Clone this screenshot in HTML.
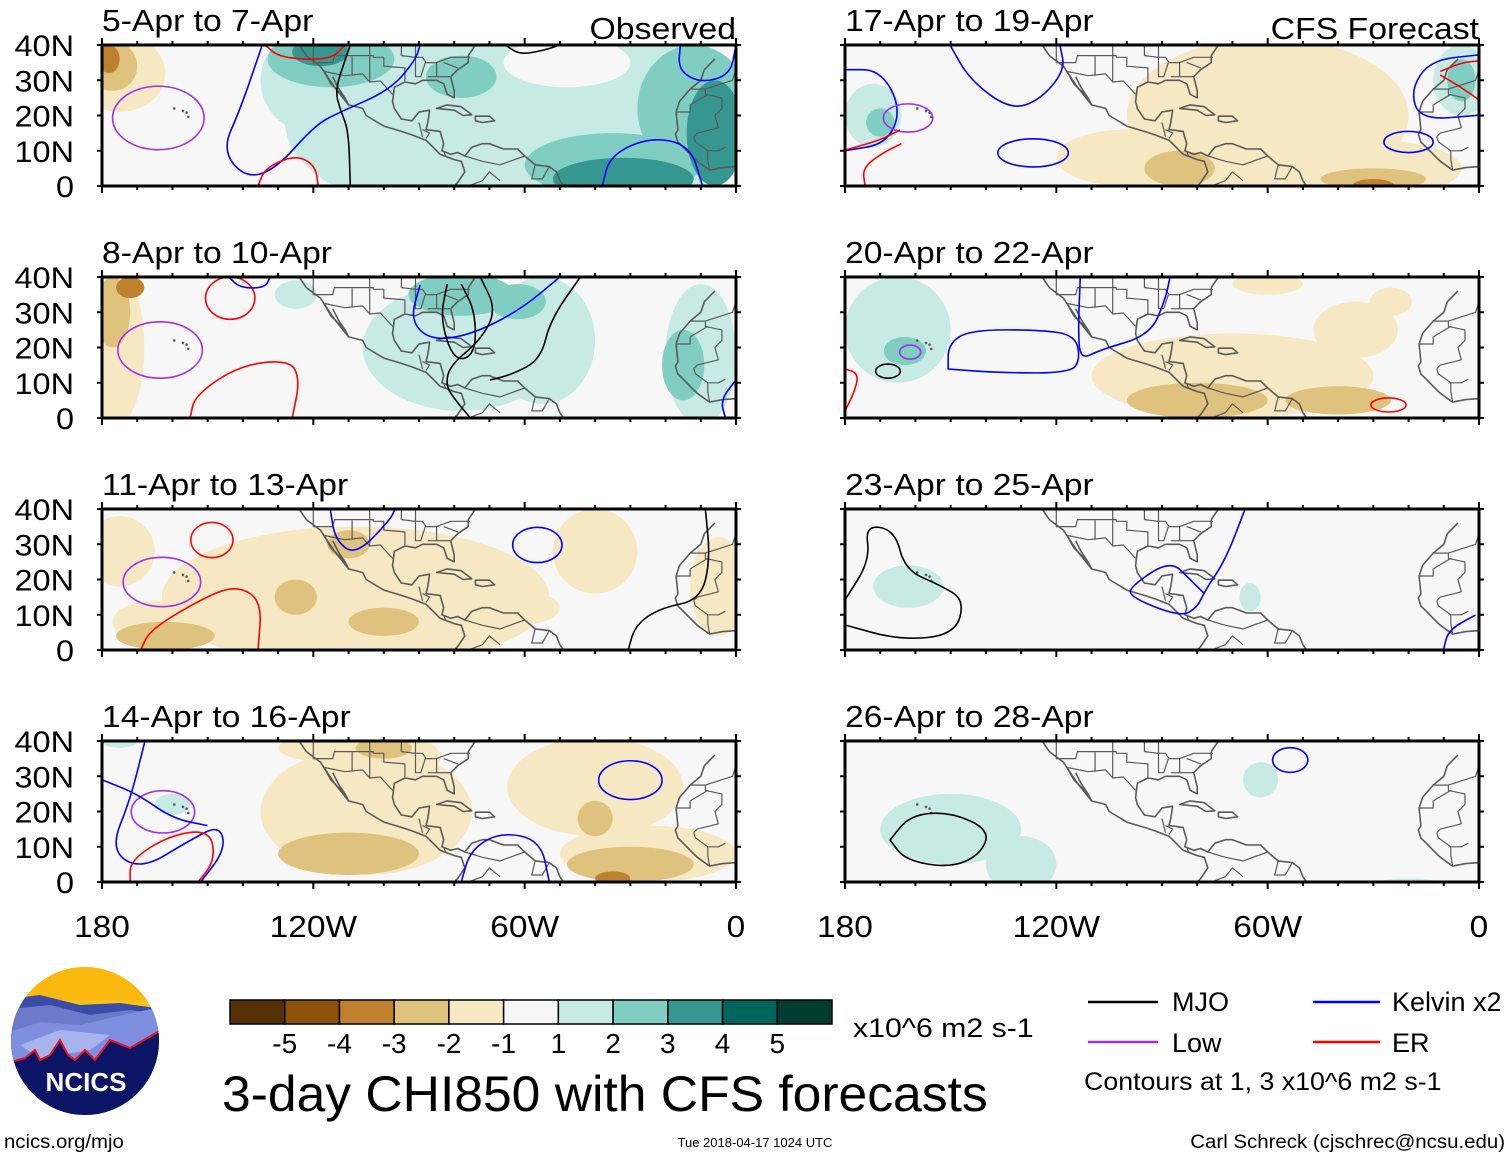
<!DOCTYPE html>
<html><head><meta charset="utf-8">
<style>
body{margin:0;background:#fff;}
svg{display:block;font-family:"Liberation Sans",Arial,sans-serif;}
</style></head>
<body>
<svg id="fig" width="1510" height="1157" viewBox="0 0 1510 1157" xmlns="http://www.w3.org/2000/svg">
<defs>
<clipPath id="logoclip"><ellipse cx="85" cy="1041" rx="74" ry="74"/></clipPath>
</defs>
<g id="panels"></g>
<g id="axislabels"></g>

<g clip-path="url(#logoclip)">
<rect x="0" y="960" width="170" height="160" fill="#f6c21a"/>
<rect x="0" y="960" width="170" height="40" fill="#fbb80e"/>
<path d="M0,1000 L40,995 L80,1005 L120,1003 L170,1010 L170,1120 L0,1120Z" fill="#3c4aa8"/>
<path d="M0,1010 L50,1005 L90,1015 L130,1010 L170,1015 L170,1120 L0,1120Z" fill="#6d7ac9"/>
<path d="M0,1035 L40,1022 L80,1025 L110,1018 L170,1005 L170,1120 L0,1120Z" fill="#7f8fe0"/>
<path d="M20,1045 L60,1030 L110,1035 L90,1050 L40,1058Z" fill="#a8b4ee"/>
<path d="M0,1065 L25,1058 L35,1050 L40,1060 L50,1055 L60,1040 L68,1055 L75,1060 L85,1050 L95,1060 L110,1040 L130,1048 L170,1025 L170,1120 L0,1120Z" fill="#0c1465" stroke="#e8141e" stroke-width="2"/>
<text x="86" y="1091" font-size="26" font-weight="bold" fill="#fff" text-anchor="middle">NCICS</text>
</g>

<text x="4" y="1148" font-size="19" class="sx" data-s="1.07">ncics.org/mjo</text>
<text x="755" y="1147" font-size="13" text-anchor="middle">Tue 2018-04-17 1024 UTC</text>
<text x="1505" y="1148" font-size="19" text-anchor="end" class="sx" data-s="1.075">Carl Schreck (cjschrec@ncsu.edu)</text>
<text x="222" y="1111" font-size="50" class="sx" data-s="1.032">3-day CHI850 with CFS forecasts</text>

<g id="colorbar"></g>
<text x="853" y="1037" font-size="27" class="sx" data-s="1.12">x10^6 m2 s-1</text>

<g font-size="27">
<line x1="1088" y1="1002" x2="1158" y2="1002" stroke="#000" stroke-width="2.5"/>
<text x="1172" y="1011">MJO</text>
<line x1="1313" y1="1002" x2="1380" y2="1002" stroke="#0000ff" stroke-width="2.5"/>
<text x="1392" y="1011">Kelvin x2</text>
<line x1="1088" y1="1042" x2="1158" y2="1042" stroke="#a030f0" stroke-width="2.5"/>
<text x="1172" y="1052">Low</text>
<line x1="1313" y1="1042" x2="1380" y2="1042" stroke="#ff0000" stroke-width="2.5"/>
<text x="1392" y="1052">ER</text>
<text x="1084" y="1090" font-size="25" class="sx" data-s="1.07">Contours at 1, 3 x10^6 m2 s-1</text>
</g>
</svg>
<script>
const NS="http://www.w3.org/2000/svg";
const levelColors={"-4":"#8c510a","-3":"#bf812d","-2":"#dfc27d","-1":"#f6e8c3","0":"#f7f7f7","1":"#c7eae5","2":"#80cdc1","3":"#35978f","4":"#01665e"};
const cbColors=["#543005","#8c510a","#bf812d","#dfc27d","#f6e8c3","#f7f7f7","#c7eae5","#80cdc1","#35978f","#01665e","#003c30"];
const cbLabels=["-5","-4","-3","-2","-1","1","2","3","4","5"];
const latTicks=["40N","30N","20N","10N","0"];
const lonTicks=["180","120W","60W","0"];
const contourColors={mjo:"#000",kel:"#0000ff",low:"#a030f0",er:"#ff0000"};
const titles=["5-Apr to 7-Apr","8-Apr to 10-Apr","11-Apr to 13-Apr","14-Apr to 16-Apr","17-Apr to 19-Apr","20-Apr to 22-Apr","23-Apr to 25-Apr","26-Apr to 28-Apr"];
const shade1=[[-60,18,68,30,1],[-120,30,15,15,1],[-48,35,18,7,0],[-140,8,14,10,0],[-115,36,18,8,2],[-78,31,10,6,2],[-12,22,16,18,2],[-35,6,25,9,2],[-32,2,20,6,3],[-6,15,8,15,3],[-118,38,8,4,3],[-175,32,13,11,-1],[-177,34,7,7,-2],[-178,36,3,4,-3]];
const shade2=[[-176,20,8,22,-1],[-177,30,5,10,-2],[-172,37,4,3,-3],[-78,20,28,18,1],[-55,22,15,18,1],[-10,18,10,20,1],[-125,35,6,4,1],[-78,35,15,6,2],[-62,33,8,5,2],[-15,15,6,10,2]];
const shade3=[[-108,15,55,20,-1],[-175,28,10,10,-1],[-40,28,12,12,-1],[-5,18,8,14,-1],[-62,12,12,5,-1],[-165,8,12,6,-1],[-110,30,6,4,-2],[-100,8,10,4,-2],[-162,4,14,4,-2],[-125,15,6,5,-2]];
const shade4=[[-105,20,30,18,-1],[-40,27,25,14,-1],[-25,8,25,8,-1],[-115,38,15,4,-1],[-92,35,8,6,-1],[-110,8,20,6,-2],[-30,5,18,5,-2],[-40,18,5,5,-2],[-100,38,8,3,-2],[-35,1,5,2,-3],[-160,22,5,3,1],[-175,40,5,2,1]];
const shade5=[[-60,20,40,22,-1],[-100,8,20,8,-1],[-30,5,25,8,-1],[-85,5,10,5,-2],[-30,2,15,3,-2],[-30,0,6,2,-3],[-172,20,8,9,1],[-170,18,4,4,2],[-5,30,8,10,1],[-5,30,4,6,2]];
const shade6=[[-165,25,15,15,1],[-163,19,6,4,2],[-70,12,40,12,-1],[-35,25,12,8,-1],[-25,33,6,4,-1],[-60,38,10,3,-1],[-80,5,20,5,-2],[-40,5,15,4,-2]];
const shade7=[[-162,18,10,6,1],[-65,15,3,4,1]];
const shade8=[[-150,15,20,10,1],[-130,5,10,8,1],[-62,29,5,5,1],[-20,0,8,1,1]];
const cont1=[["low","e",-164,19.3,13,9],["kel",0,[[-134.5,40],[-140.8,21.6],[-145.9,10.2],[-139.4,2.3],[-130.9,4.5],[-119.5,17.3],[-112.4,21],[-98.2,27.2],[-91,35.7],[-89.7,40]]],["er",0,[[-135.7,0],[-133.7,5.1],[-125.2,8.8],[-119.5,6],[-118.6,0]]],["er",0,[[-133.7,40],[-129.4,36.3],[-115.2,35.7],[-111,40]]],["mjo",0,[[-109.5,0],[-110,15.9],[-112.4,21.6],[-113.8,27.2],[-111,35.7],[-109.5,40]]],["mjo",0,[[-65.5,40],[-61.3,37.2],[-54.2,38.6],[-50,40]]],["kel",0,[[-38,0],[-35.7,8.8],[-24.3,13.9],[-13,11.6],[-9.5,0]]],["kel",0,[[-15.8,40],[-16.4,32.9],[-10.1,29.2],[-1.6,31.5],[0,40]]]];
const cont2=[["low","e",-163.5,19.3,12,8],["er","e",-143.6,34,7,6],["er",0,[[-155,0],[-153.6,6.5],[-140.8,15],[-126.6,16.5],[-123.8,10.8],[-126,0]]],["kel",0,[[-144,40],[-140.8,36.9],[-133.7,36.9],[-132.3,40]]],["kel",0,[[-89.7,37.7],[-92.5,27.8],[-86.8,22],[-75.4,23.5],[-61.3,30.6],[-50,40]]],["mjo",0,[[-72.6,40],[-68,30.6],[-72.6,22],[-81.1,15],[-82.5,9.4],[-79.7,5.1],[-75.4,0]]],["mjo",0,[[-44.2,40],[-52.7,27.8],[-55.5,16.5],[-64,12.2],[-69.8,10.8]]],["mjo",0,[[-82,38],[-84,28],[-80,16],[-74,18],[-74,30],[-78,38]]],["kel",0,[[0,10.8],[-4.4,5.1],[-3,0]]]];
const cont3=[["low","e",-163,19.3,11,7],["er","e",-148.8,31.2,6,5],["er",0,[[-169,0],[-166.4,5.7],[-152.2,14.2],[-142.2,18.4],[-134.6,14.2],[-135.7,0]]],["kel","e",-56.4,29.8,7,5],["kel",0,[[-115.2,40],[-113.8,31.2],[-108,26.8],[-98.2,36.9],[-96.8,40]]],["mjo",0,[[-30.6,0],[-28.6,7.1],[-21.5,11.9],[-10.1,14.2],[-7.3,25.5],[-8.7,40]]]];
const cont4=[["low","e",-162.7,19.9,9,6],["kel",0,[[-167.8,40],[-172,23.3],[-177.7,9.1],[-169,3.4],[-155,11.9],[-146.5,16.2],[-145,9.1],[-152,0]]],["kel",0,[[-180,29],[-170,25],[-160,18],[-150,16]]],["er",0,[[-172,0],[-172,6.2],[-160.7,13.3],[-149.3,14.8],[-147.9,6.2],[-152.7,0]]],["kel","e",-30,28.9,9,5.5],["kel",0,[[-78,0],[-75.4,9.1],[-66.9,14.2],[-55.5,11.9],[-53,0]]]];
const cont5=[["kel",0,[[-180,10],[-168,12],[-164,22],[-170,33],[-180,33]]],["kel",0,[[-150.2,40],[-144.5,30],[-133,21.6],[-124.6,24.4],[-117.5,32.9],[-119,40]]],["kel","e",-126.6,9.4,10,4],["kel",0,[[0,20.1],[-16.7,18.7],[-19.5,27.2],[-13.8,35.7],[0,37.2]]],["kel","e",-20,12.5,7,3],["low","e",-162.1,19.3,7,4],["er",0,[[-180,10.2],[-170,13],[-164.4,15.9]]],["er",0,[[-174.3,0],[-175,5],[-170,9],[-164,12]]],["er",0,[[-11,31.5],[-5,28],[0,24.4]]],["er",0,[[-11,32.5],[-5,35],[0,35.5]]]];
const cont6=[["kel",1,[[-150.7,13.9],[-150.7,21],[-144.5,25],[-124.6,25],[-114.6,23.5],[-113.2,16.5],[-116.1,12.8],[-136,12.8]]],["kel",0,[[-113.2,40],[-113.8,25],[-113.2,16.5],[-107.6,19.3],[-93.4,23.5],[-89.1,33.5],[-87.7,40]]],["mjo","e",-167.8,13.3,3.5,2],["low","e",-161.5,18.7,3,2],["er","e",-25.7,3.7,5,2],["er",0,[[-180,14],[-176,12.5],[-177.5,7],[-180,2]]]];
const cont7=[["mjo",0,[[-180,14.2],[-172.9,25.5],[-174.3,35.5],[-165.8,34],[-163,22.7],[-153,18.4],[-146,14.2],[-148.8,4.3],[-164.4,2.8],[-180,7.1]]],["kel",0,[[-66.4,40],[-72,25.5],[-77.7,17],[-80,12],[-84.8,9.4],[-99,15],[-99,18],[-87.7,25.5],[-82,20],[-78,16]]],["kel",0,[[-10.1,0],[-8.7,5.7],[-1,9.9]]]];
const cont8=[["mjo",1,[[-167.2,11.9],[-161.5,19],[-150.2,19.9],[-138.8,14.8],[-141.6,7.7],[-150.2,4],[-162.9,6.2]]],["kel","e",-53.6,34.6,5,3.5]];
const coastNA=[[-124,40],[-122,37],[-118,34],[-116,31],[-114,28],[-110,23],[-106,22],[-105,20],[-100,17],[-95,15.5],[-92,14.5],[-88,13],[-86,11],[-84,9],[-80,7.5],[-78,7],[-77,4],[-79,1],[-80,0]];
const baja=[[-117,32.5],[-115,29],[-112,26],[-110,23],[-111,25],[-113,28],[-114.5,31]];
const gulf=[[-74,40],[-76,37],[-76,35],[-79,33],[-81,31],[-80,27],[-80,25],[-82,26],[-83,29],[-85,30],[-89,30],[-91,29],[-94,29.5],[-97,28],[-97.5,24],[-97,22],[-95,19],[-92,18.5],[-90,21],[-87,21.5],[-87.5,18],[-88,16],[-84,15.5],[-83,12],[-83.5,10],[-81,9],[-79,9.5],[-77,8.5],[-75,11],[-72,12],[-70,12],[-66,10.5],[-62,10.5],[-60,8.5],[-57,6],[-53,5.5],[-51,4],[-50,1.5],[-49,0]];
const cuba=[[-85,22],[-82,23],[-78,22.5],[-75,20.2],[-77.5,20],[-80,21.5],[-85,22]];
const hisp=[[-74,19.8],[-70,19.8],[-68.5,18.5],[-72,18],[-74,18.5],[-74,19.8]];
const africa=[[-6,36],[-9,33],[-10,30],[-13,27.5],[-16,24],[-17,21],[-16.5,16],[-17.2,14.7],[-16.5,12.5],[-15,11],[-13,9],[-11,7],[-7.5,4.5],[-4,5.2],[0,5.5]];
const borders=[[[-117,32.5],[-111,31.3],[-106,31.8],[-104,29.5],[-101,29.8],[-97.5,26]],[[-124,42],[-124,40]],[[-120,40],[-120,35],[-114.5,35],[-114,37],[-109,37],[-109,31.3]],[[-109,37],[-103,37],[-103,36.5],[-100,36.5],[-100,34],[-94,33.5],[-94,29.7]],[[-104,40],[-104,29.5]],[[-95,40],[-95,37],[-91,36.5],[-89,36.5],[-88,35],[-85,35],[-81,36.5],[-75.5,36.5]],[[-91,40],[-91,31],[-89.5,31],[-88.2,35]],[[-85,35],[-85,31],[-87.5,31]],[[-81,31],[-85,31]],[[-83,35],[-79,33.5]],[[-13,27.5],[-8.7,27.5],[-8.7,26],[-4,25],[-4,22],[-6,20],[-5,16.5],[-11,15],[-12,14]],[[-17,21],[-13,21],[-13,23],[-8,26]],[[-8.7,27.5],[-1,30],[0,33]],[[-12,14],[-11.5,12.5],[-8,10],[-5,10],[-3,11]],[[-8,10],[-8,7.5],[-7.5,4.5]],[[-80,7.5],[-82.5,8.5],[-83,10]],[[-77,8.5],[-72,7],[-67,6],[-60,8.5]],[[-76,0],[-72,1.5],[-70,4],[-67,1.5]],[[-57,6],[-58,2],[-55,2],[-53,5.5]],[[-88,13.5],[-87,15],[-89,16]],[[-90,18],[-89,14]]];

const shades=[shade1,shade2,shade3,shade4,shade5,shade6,shade7,shade8];
const conts=[cont1,cont2,cont3,cont4,cont5,cont6,cont7,cont8];
const W=634,H=141,tops=[45,277,509,741],lefts=[102,845];
function mk(tag,attrs,parent){const e=document.createElementNS(NS,tag);for(const k in attrs)e.setAttribute(k,attrs[k]);if(parent)parent.appendChild(e);return e;}
const panelsG=document.getElementById('panels');
for(let p=0;p<8;p++){
  const col=p<4?0:1,row=p%4;
  const x0=lefts[col],y0=tops[row];
  const xs=lon=>x0+(lon+180)/180*W;
  const ys=lat=>y0+H-lat/40*H;
  const g=mk('g',{},panelsG);
  
  
  const cid='clip'+p;
  const cp=mk('clipPath',{id:cid},g);mk('rect',{x:x0,y:y0,width:W,height:H},cp);
  const inner=mk('g',{'clip-path':'url(#'+cid+')'},g);
  mk('rect',{x:x0,y:y0,width:W,height:H,fill:'#f7f7f7'},inner);
  shades[p].forEach(b=>{
    const e=mk('ellipse',{cx:xs(b[0]),cy:ys(b[1]),rx:b[2]/180*W,ry:b[3]/40*H,fill:levelColors[String(b[4])]},inner);
    
    
  });
  const pts=a=>a.map(q=>xs(q[0]).toFixed(1)+','+ys(q[1]).toFixed(1)).join(' ');
  const land=mk('g',{fill:'none',stroke:'#5a5a5a','stroke-width':1.6,'stroke-linejoin':'round'},inner);
  
  
  [coastNA,baja,gulf,africa].forEach(c=>mk('polyline',{points:pts(c)},land));
  [cuba,hisp].forEach(c=>mk('polygon',{points:pts(c)},land));
  borders.forEach(c=>mk('polyline',{points:pts(c),'stroke-width':1.2},land));
  [[-157,21.3],[-156,20.8],[-155.5,19.6],[-159.5,22]].forEach(q=>mk('circle',{cx:xs(q[0]),cy:ys(q[1]),r:1.3,fill:'#5a5a5a',stroke:'none'},land));
  conts[p].forEach(c=>{
    const col2=contourColors[c[0]];let e;
    if(c[1]==='e'){e=mk('ellipse',{cx:xs(c[2]),cy:ys(c[3]),rx:c[4]/180*W,ry:c[5]/40*H,fill:'none',stroke:col2,'stroke-width':1.6},inner);}
    else{
      const a=c[2];let d='M'+xs(a[0][0])+','+ys(a[0][1]);
      for(let i=1;i<a.length;i++){const q0=a[i-1],q1=a[i];const mx=(xs(q0[0])+xs(q1[0]))/2,my=(ys(q0[1])+ys(q1[1]))/2;d+=' Q'+xs(q0[0])+','+ys(q0[1])+' '+mx+','+my;}
      const l=a[a.length-1];
      if(c[1]){d+=' Q'+xs(l[0])+','+ys(l[1])+' '+(xs(l[0])+xs(a[0][0]))/2+','+(ys(l[1])+ys(a[0][1]))/2+' Z';}
      else d+=' L'+xs(l[0])+','+ys(l[1]);
      e=mk('path',{d:d,fill:'none',stroke:col2,'stroke-width':1.6},inner);
    }
    
    
  });
  const fr=mk('rect',{x:x0,y:y0,width:W,height:H,fill:'none',stroke:'#000','stroke-width':3},g);
  
  
  for(let lon=-180;lon<=0;lon+=10){
    const major=(lon%60===0);const x=xs(lon);const len=major?7:4;
    mk('line',{x1:x,y1:y0+H,x2:x,y2:y0+H+len,stroke:'#000','stroke-width':2},g);
    mk('line',{x1:x,y1:y0,x2:x,y2:y0-len,stroke:'#000','stroke-width':2},g);
  }
  for(let lat=0;lat<=40;lat+=10){
    const y=ys(lat);
    mk('line',{x1:x0-5,y1:y,x2:x0,y2:y,stroke:'#000','stroke-width':2},g);
    mk('line',{x1:x0+W,y1:y,x2:x0+W+5,y2:y,stroke:'#000','stroke-width':2},g);
  }
  const t=mk('text',{x:x0,y:y0-14,'font-size':31,'class':'sx','data-s':'1.085'},g);t.textContent=titles[p];
  
  
  if(col===0){
    latTicks.forEach((lab,i)=>{const tt=mk('text',{x:74,y:y0+i*H/4+11,'font-size':30,'text-anchor':'end','class':'sx','data-s':'1.08'},g);tt.textContent=lab;
      
      });
  }
  if(p===0){const tt=mk('text',{x:736,y:y0-6,'font-size':31,'text-anchor':'end','class':'sx','data-s':'1.09'},g);tt.textContent='Observed';
    
    }
  if(p===4){const tt=mk('text',{x:1479,y:y0-6,'font-size':31,'text-anchor':'end','class':'sx','data-s':'1.09'},g);tt.textContent='CFS Forecast';
    
    }
}
const al=document.getElementById('axislabels');
lefts.forEach(x0=>{lonTicks.forEach((lab,i)=>{const tt=mk('text',{x:x0+i*W/3,y:937,'font-size':31,'text-anchor':'middle','class':'sx','data-s':'1.08'},al);tt.textContent=lab;
  
  });});
const cb=document.getElementById('colorbar');
const cbx=230,cbw=602,cby=1000,cbh=24,bw=cbw/cbColors.length;
cbColors.forEach((c,i)=>{const r=mk('rect',{x:cbx+i*bw,y:cby,width:bw,height:cbh,fill:c,stroke:'#000','stroke-width':1.5},cb);
  
  });
cbLabels.forEach((lab,i)=>{const tt=mk('text',{x:cbx+(i+1)*bw,y:1053,'font-size':28,'text-anchor':'middle'},cb);tt.textContent=lab;
  
  });
document.querySelectorAll('text.sx').forEach(t=>{
  const s=parseFloat(t.getAttribute('data-s'));
  const w=t.getComputedTextLength();
  t.setAttribute('textLength',(w*s).toFixed(1));
  t.setAttribute('lengthAdjust','spacingAndGlyphs');
});
</script>
</body></html>
